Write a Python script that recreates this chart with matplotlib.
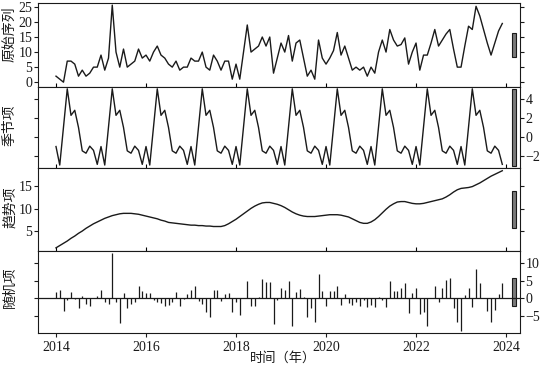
import numpy as np
import matplotlib
matplotlib.use('Agg')
from matplotlib import pyplot as plt
import matplotlib.transforms as mtransforms

plt.rcParams['font.family'] = ['Liberation Serif', 'Noto Sans CJK SC']
plt.rcParams['axes.unicode_minus'] = True

# monthly series, Jan 2014 - Dec 2023
start_year = 2014
observed = [2, 1, 0, 7, 7, 6, 2, 4, 2, 3, 5, 5,
            9, 4, 8, 25.6, 10, 5, 11, 5, 6, 7, 11, 8,
            9, 7, 10, 12, 9, 8, 6, 5, 7, 4, 5, 5,
            8, 7, 7, 10, 5, 4, 9, 7, 4, 7, 7, 1,
            6, 1, 10, 19, 10, 11, 12, 15, 12, 15, 3, 8,
            13, 10, 15.5, 7, 13, 14, 8, 2, 4, 1, 14, 8,
            6, 8, 10.5, 16.5, 9, 12, 8, 4, 5, 4, 5, 2,
            5, 3, 10, 14, 10, 17.5, 14, 12, 12.5, 14.7, 6, 10,
            13, 4, 9, 9, 13, 17.5, 12, 14, 16, 17.5, 11, 5,
            5, 12, 18.6, 17.5, 25.2, 22, 17.5, 13, 9, 13, 17, 19.5]
seasonal_month = [-1.0, -2.94, 1.05, 5.05, 2.27, 2.8, 1.0, -1.45, -1.7, -0.96, -1.4, -2.87]
trend = [1.4, 1.9, 2.4, 2.9, 3.5, 4.0, 4.6, 5.1, 5.7, 6.2, 6.7, 7.1,
         7.5, 7.9, 8.2, 8.5, 8.7, 8.9, 9.0, 9.0, 9.0, 8.9, 8.8, 8.6,
         8.4, 8.2, 8.0, 7.8, 7.5, 7.3, 7.0, 6.9, 6.8, 6.7, 6.6, 6.5,
         6.4, 6.4, 6.3, 6.3, 6.2, 6.2, 6.1, 6.1, 6.1, 6.3, 6.7, 7.2,
         7.7, 8.3, 8.9, 9.5, 10.1, 10.6, 11.0, 11.3, 11.4, 11.4, 11.2, 11.0,
         10.7, 10.3, 9.8, 9.3, 8.9, 8.6, 8.4, 8.3, 8.3, 8.3, 8.4, 8.5,
         8.6, 8.7, 8.7, 8.7, 8.6, 8.4, 8.2, 7.8, 7.4, 7.0, 6.8, 6.8,
         7.1, 7.6, 8.3, 9.1, 9.9, 10.6, 11.1, 11.5, 11.6, 11.6, 11.4, 11.2,
         11.1, 11.1, 11.2, 11.4, 11.6, 11.8, 12.0, 12.2, 12.6, 13.1, 13.7, 14.2,
         14.5, 14.6, 14.7, 14.9, 15.3, 15.7, 16.2, 16.7, 17.2, 17.6, 18.0, 18.4]
remainder = [1.9, 2.4, -3.5, -0.5, 1.7, -0.3, -2.9, 0.7, -1.7, -2.2, 0.1, 0.8,
             2.4, -1.1, -1.7, 12.9, -1.0, -7.0, 1.4, -2.9, -1.7, -1.1, 3.6, 2.2,
             1.4, 1.6, -0.5, -1.0, -1.4, -2.2, -1.9, -1.0, 1.7, -2.2, -0.3, 1.1,
             2.4, 3.5, -0.8, -1.7, -3.8, -5.2, 2.3, 2.3, -0.8, 1.2, 1.6, -3.8,
             -1.0, -4.8, 0.1, 4.8, -2.2, -2.2, 0.5, 5.5, 4.6, 4.6, -7.4, -0.5,
             3.0, 2.4, 5.0, -7.8, 1.7, 2.6, 0.3, -5.3, -2.9, -6.9, 7.0, 2.2,
             -2.1, 2.1, 2.1, 3.5, -1.9, 1.3, -1.4, -1.9, -1.1, -2.2, -0.5, -2.4,
             -1.9, -2.4, 0.3, -0.5, -2.6, 4.8, 2.1, 2.1, 2.9, 4.3, -4.3, 1.4,
             2.9, -4.6, -3.8, -7.8, 0.1, 3.5, -1.0, 3.0, 5.2, 5.7, -2.7, -6.7,
             -9.3, 1.0, 3.0, -2.4, 8.4, 4.3, 0.1, -3.6, -6.9, -3.3, 1.1, 4.3]

panel_names = ['原始序列', '季节项', '趋势项', '随机项']
ylims = [(-1.6, 26.3), (-3.25, 5.24), (0.7, 19.0), (-9.9, 13.5)]
yticks = [[0, 5, 10, 15, 20, 25], [-2, 0, 2, 4], [5, 10, 15], [-5, 0, 5, 10]]

t = start_year + np.arange(len(observed)) / 12
seasonal = np.tile(seasonal_month, len(observed) // 12)
series = [np.array(observed), seasonal, np.array(trend), np.array(remainder)]

fig = plt.figure(figsize=(5.4, 3.66), dpi=100)
W, H = 540, 366
edges = [3, 87, 168, 251, 333]
label_y = [34, 125, 207, 287]
x0, x1 = 38, 520

bar_len = min(s.max() - s.min() for s in series)
ink = '#1a1a1a'

for k in range(4):
    ax = fig.add_axes([x0 / W, 1 - edges[k + 1] / H, (x1 - x0) / W,
                       (edges[k + 1] - edges[k]) / H])
    y = series[k]
    if k == 3:
        ax.vlines(t, 0, y, color=ink, lw=0.9)
        ax.axhline(0, color=ink, lw=0.9)
    else:
        ax.plot(t, y, color=ink, lw=1.0)
    ax.set_xlim(2013.6, 2024.31)
    ax.set_ylim(*ylims[k])
    ax.set_yticks(yticks[k])
    # range bar on the right
    mid = sum(ylims[k]) / 2
    trans = mtransforms.blended_transform_factory(ax.transAxes, ax.transData)
    ax.add_patch(plt.Rectangle((0.9824, mid - bar_len / 2), 0.009, bar_len,
                               transform=trans, facecolor='#7a7a7a',
                               edgecolor=ink, lw=0.8))
    left_lab = k in (0, 2)
    ax.tick_params(axis='y', left=True, right=True, direction='out', length=3,
                   width=0.8, pad=1, labelsize=10, labelleft=left_lab,
                   labelright=not left_lab, colors=ink)
    ax.set_xticks(range(2014, 2025, 2))
    if k < 3:
        ax.tick_params(axis='x', direction='in', length=3, width=0.8,
                       labelbottom=False)
    else:
        ax.tick_params(axis='x', direction='out', length=3, width=0.8, pad=3,
                       labelsize=10, colors=ink)
    for sp in ax.spines.values():
        sp.set_linewidth(0.8)
        sp.set_color(ink)
    fig.text(10 / W, 1 - label_y[k] / H, panel_names[k], rotation=90,
             ha='center', va='center', fontsize=10, color=ink)

fig.text(283 / W, 1 - 358 / H, '时间（年）', ha='center', va='center',
         fontsize=9.5, color=ink)

fig.savefig('out.png', dpi=100)
